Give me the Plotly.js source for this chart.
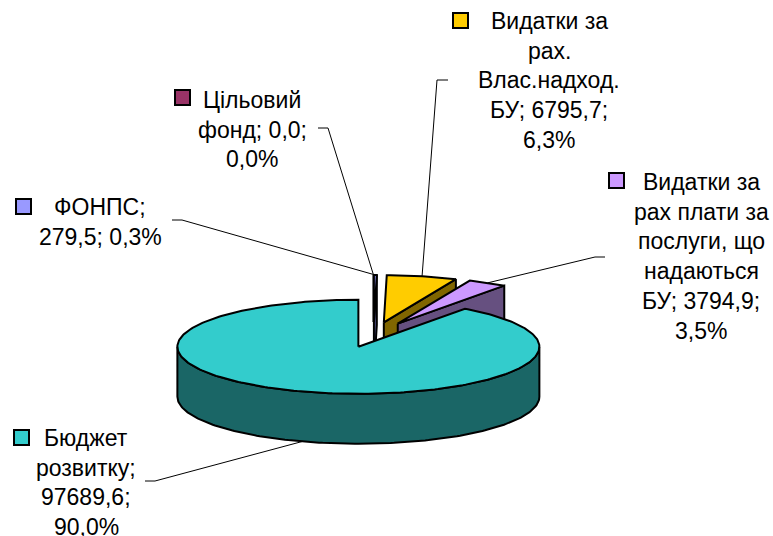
<!DOCTYPE html>
<html><head><meta charset="utf-8">
<script src="https://cdn.plot.ly/plotly-3.0.1.min.js"></script>
<style>html,body{margin:0;padding:0;background:#fff;overflow:hidden}</style>
</head><body><div id="chart" style="width:773px;height:536px"></div>
<script>
// ---- data ----
const categories = ['Цільовий фонд', 'ФОНПС', 'Видатки за рах. Влас.надход. БУ', 'Видатки за рах плати за послуги, що надаються БУ', 'Бюджет розвитку'];
const values = [0.0, 279.5, 6795.7, 3794.9, 97689.6];
// wrapped label text; {v} = value, {p} = percent
const labelTemplates = [
  'Цільовий\nфонд; {v};\n{p}',
  'ФОНПС;\n{v}; {p}',
  'Видатки за\nрах.\nВлас.надход.\nБУ; {v};\n{p}',
  'Видатки за\nрах плати за\nпослуги, що\nнадаються\nБУ; {v};\n{p}',
  'Бюджет\nрозвитку;\n{v};\n{p}'
];

// ---- styles / layout constants ----
const topColors  = ['#993366', '#9999FF', '#FFCC00', '#CC99FF', '#33CCCC'];
const sideColors = ['#4D1A33', '#4D4D80', '#806600', '#665080', '#1A6666'];
const CX = 373.5, CY = 334.7, RX = 181, RY = 47, H = 50, EXPLODE = 0.27;
const FONT = {family: '"Liberation Sans", Arial, sans-serif', size: 23, color: '#000'};
const LINE_GAP = 29.7;
const labelPos = [[252, 100], [100, 207], [549, 21], [701, 182], [86, 438]];
const keyPos = [[175, 90], [16, 199], [453, 13], [609, 173], [14, 430]];
const KEY = 15;
const leaderStart = [[318, 128, 328], [172, 220, 182], [448, 80, 437], [605, 257, 595], [145, 481, 155]];

const total = values.reduce((a, b) => a + b, 0);
const fmt = v => v.toFixed(1).replace('.', ',');

function pt(apex, th, r, dz) {
  return [apex[0] + r * RX * Math.sin(th), apex[1] - r * RY * Math.cos(th) + (dz || 0)];
}
function arc(apex, a0, a1, dz) {
  const n = Math.max(2, Math.ceil(Math.abs(a1 - a0) / 0.02));
  const out = [];
  for (let k = 0; k <= n; k++) out.push(pt(apex, a0 + (a1 - a0) * k / n, 1, dz));
  return out;
}
function poly(points, fill) {
  const xs = points.map(p => p[0]), ys = points.map(p => p[1]);
  xs.push(xs[0]); ys.push(ys[0]);
  return {x: xs, y: ys, type: 'scatter', mode: 'lines', fill: 'toself', fillcolor: fill,
          line: {color: '#000', width: 2, shape: 'linear'}, hoverinfo: 'skip', showlegend: false};
}

// slice angles (clockwise from 12 o'clock)
const slices = [];
let acc = 0;
values.forEach((v, i) => {
  const a0 = acc / total * 2 * Math.PI;
  acc += v;
  const a1 = acc / total * 2 * Math.PI;
  const mid = (a0 + a1) / 2;
  const apex = [CX + EXPLODE * RX * Math.sin(mid), CY - EXPLODE * RY * Math.cos(mid)];
  slices.push({i, a0, a1, mid, apex});
});

const biggest = values.indexOf(Math.max(...values));
const order = slices.map(s => s.i).filter(i => i !== biggest).concat([biggest]);

const traces = [];
order.forEach(i => {
  const s = slices[i];
  const A = s.apex;
  if (Math.sin(s.a0) < -1e-6 && s.a1 > s.a0) {
    const P = pt(A, s.a0, 1);
    traces.push(poly([A, P, [P[0], P[1] + H], [A[0], A[1] + H]], sideColors[i]));
  }
  if (Math.sin(s.a1) > 1e-6 && s.a1 > s.a0) {
    const P = pt(A, s.a1, 1);
    traces.push(poly([A, P, [P[0], P[1] + H], [A[0], A[1] + H]], sideColors[i]));
  }
  const f0 = Math.max(s.a0, Math.PI / 2), f1 = Math.min(s.a1, 3 * Math.PI / 2);
  if (f1 > f0) {
    const topArc = arc(A, f0, f1, 0);
    const botArc = arc(A, f1, f0, H);
    traces.push(poly(topArc.concat(botArc), sideColors[i]));
  }
  traces.push(poly([A].concat(arc(A, s.a0, s.a1, 0)), topColors[i]));
});

// labels, keys, leader lines
const annotations = [], shapes = [];
slices.forEach(s => {
  const i = s.i;
  const pct = values[i] / total * 100;
  const lines = labelTemplates[i].replace('{v}', fmt(values[i])).replace('{p}', fmt(pct) + '%').split('\n');
  lines.forEach((t, k) => {
    annotations.push({x: labelPos[i][0], y: labelPos[i][1] + k * LINE_GAP, xref: 'x', yref: 'y',
      text: t, showarrow: false, xanchor: 'center', yanchor: 'middle', font: FONT});
  });
  shapes.push({type: 'rect', xref: 'x', yref: 'y', x0: keyPos[i][0], y0: keyPos[i][1],
    x1: keyPos[i][0] + KEY, y1: keyPos[i][1] + KEY, fillcolor: topColors[i], line: {color: '#000', width: 2}});
  let E = pt(s.apex, s.mid, 1);
  if (Math.cos(s.mid) < 0) E = [E[0], E[1] + H];
  const L = leaderStart[i];
  shapes.push({type: 'path', xref: 'x', yref: 'y',
    path: `M ${L[0]} ${L[1]} L ${L[2]} ${L[1]} L ${E[0]} ${E[1]}`,
    line: {color: '#000', width: 1}});
});

const layout = {
  width: 773, height: 536,
  margin: {l: 0, r: 0, t: 0, b: 0, pad: 0},
  paper_bgcolor: '#fff', plot_bgcolor: '#fff',
  showlegend: false,
  xaxis: {range: [0, 773], visible: false, fixedrange: true},
  yaxis: {range: [536, 0], visible: false, fixedrange: true},
  annotations, shapes
};
Plotly.newPlot('chart', traces, layout, {displayModeBar: false, staticPlot: true});
</script>
</body></html>
